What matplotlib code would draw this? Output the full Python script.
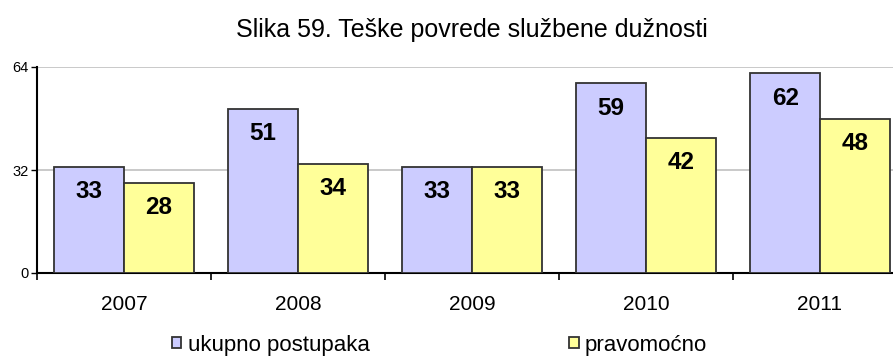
import numpy as np
from matplotlib import pyplot as plt

plt.rcParams['font.family'] = ['Liberation Sans', 'DejaVu Sans']

years = ['2007', '2008', '2009', '2010', '2011']
ukupno = [33, 51, 33, 59, 62]
pravomocno = [28, 34, 33, 42, 48]
series_names = ['ukupno postupaka', 'pravomoćno']

fig = plt.figure(figsize=(8.93, 3.56), dpi=100)
# axes runs a bit past the right edge, the last group is cut off
ax = fig.add_axes([37/893, 83/356, 870/893, 206/356])

x = np.arange(len(years))
w = 0.4
b1 = ax.bar(x - w/2, ukupno, w, color='#ccccff', edgecolor='#333333', linewidth=1.3, zorder=3)
b2 = ax.bar(x + w/2, pravomocno, w, color='#ffff99', edgecolor='#333333', linewidth=1.3, zorder=3)

for bars, vals in ((b1, ukupno), (b2, pravomocno)):
  for r, v in zip(bars, vals):
    ax.annotate(str(v), (r.get_x() + r.get_width()/2, v), xytext=(0, -25),
      textcoords='offset pixels', ha='center', va='center',
      fontsize=17.5, fontweight='bold', zorder=4)

ax.set_xlim(-0.5, len(years) - 0.5)
ax.set_ylim(0, 64)
ax.set_yticks([0, 32, 64])
ax.tick_params(axis='y', labelsize=10.5, length=4, width=1, direction='out', pad=2)
ax.yaxis.grid(True, color='#c0c0c0', linewidth=1.2, zorder=0)

# ticks between the groups, labels at the group centres
ax.set_xticks(np.arange(len(years) + 1) - 0.5)
ax.set_xticklabels([])
ax.set_xticks(x, minor=True)
ax.set_xticklabels(years, minor=True, fontsize=15)
ax.tick_params(axis='x', which='major', length=5, width=1.2, direction='out')
ax.tick_params(axis='x', which='minor', length=0, pad=16)

for s in ('top', 'right'):
  ax.spines[s].set_visible(False)
ax.spines['left'].set_linewidth(1.5)
ax.spines['bottom'].set_linewidth(1.5)

fig.text(472/893, 1 - 30/356, 'Slika 59. Teške povrede službene dužnosti',
  ha='center', va='center', fontsize=18)

fig.legend([b1, b2], series_names, loc='center left', bbox_to_anchor=(172/893, 1 - 345/356),
  ncol=2, frameon=False, fontsize=16, columnspacing=9.0, handlelength=0.42,
  handleheight=0.42, handletextpad=0.28, borderpad=0, borderaxespad=0)

fig.savefig('out.png', dpi=100)
